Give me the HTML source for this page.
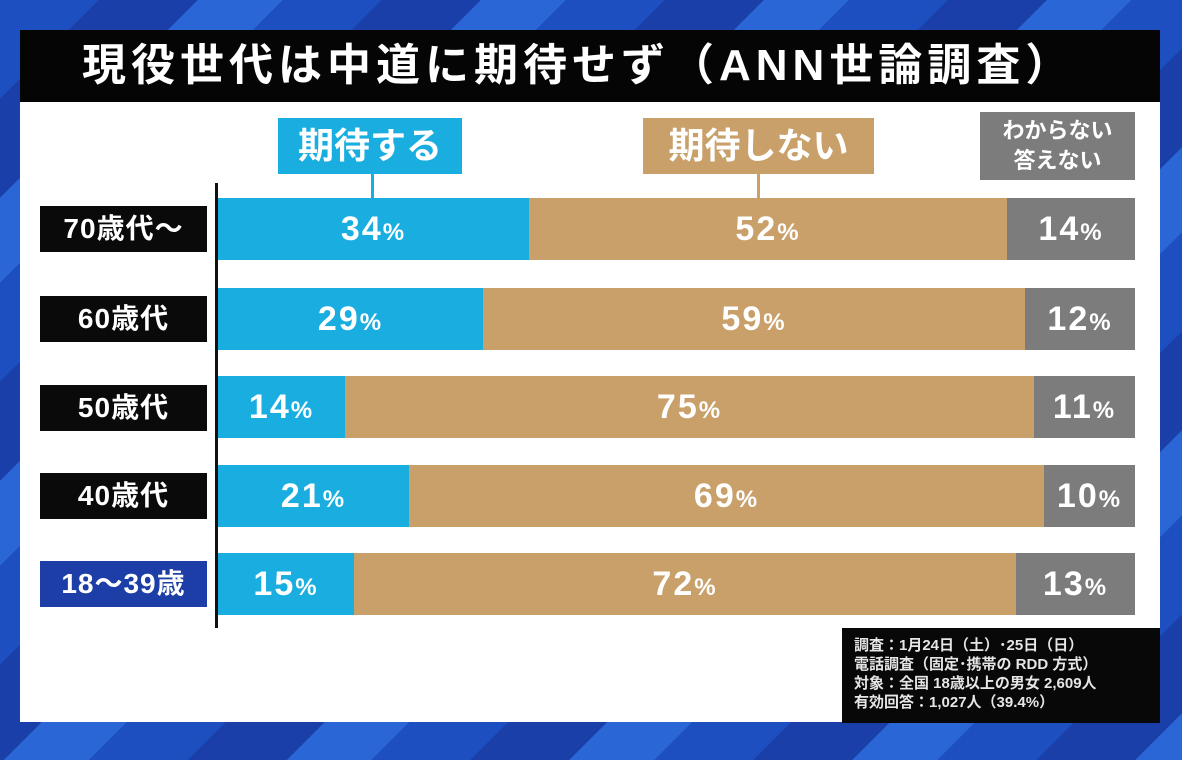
<!DOCTYPE html>
<html><head><meta charset="utf-8"><style>
*{margin:0;padding:0;box-sizing:border-box}
body{width:1182px;height:760px;overflow:hidden;position:relative;font-family:"Liberation Sans","Noto Sans CJK JP",sans-serif;font-weight:bold;
background:repeating-linear-gradient(135deg,#1d4fc0 0 70px,#1a3fa8 70px 140px,#2a66d6 140px 200px);}
.abs{position:absolute}
.title{left:20px;top:30px;width:1140px;height:72px;background:#050505;color:#fff;font-size:44px;line-height:72px;padding-left:62px;letter-spacing:5px;white-space:nowrap}
.panel{left:20px;top:102px;width:1140px;height:620px;background:#fff}
.lab{left:40px;width:167px;height:46px;background:#0a0a0a;color:#fff;font-size:28px;line-height:46px;text-align:center;letter-spacing:1px}
.seg{height:62px;color:#fff;font-size:34px;line-height:62px;text-align:center;letter-spacing:2px}
.seg small{font-size:24px}
.b{background:#1aaee0}.t{background:#c9a06a}.g{background:#7c7c7c}
.leg{color:#fff;text-align:center}
.note{left:842px;top:628px;width:318px;height:95px;background:#080808;color:#e6e6e6;font-size:15px;line-height:19px;padding:8px 0 0 12px;font-weight:bold;white-space:nowrap}
</style></head><body>
<div class="abs panel"></div>
<div class="abs title">現役世代は中道に期待せず（ANN世論調査）</div>
<div class="abs leg b" style="left:278px;top:118px;width:184px;height:56px;font-size:36px;line-height:56px">期待する</div>
<div class="abs" style="left:371px;top:174px;width:3px;height:24px;background:#1aaee0"></div>
<div class="abs leg t" style="left:643px;top:118px;width:231px;height:56px;font-size:36px;line-height:56px">期待しない</div>
<div class="abs" style="left:757px;top:174px;width:3px;height:24px;background:#c9a06a"></div>
<div class="abs leg g" style="left:980px;top:112px;width:155px;height:68px;font-size:22px;line-height:30px;padding-top:4px">わからない<br>答えない</div>
<div class="abs" style="left:215px;top:183px;width:3px;height:445px;background:#111"></div>

<div class="abs lab" style="top:206px">70歳代～</div>
<div class="abs seg b" style="left:218px;top:198px;width:311px">34<small>%</small></div>
<div class="abs seg t" style="left:529px;top:198px;width:478px">52<small>%</small></div>
<div class="abs seg g" style="left:1007px;top:198px;width:128px">14<small>%</small></div>

<div class="abs lab" style="top:296px">60歳代</div>
<div class="abs seg b" style="left:218px;top:288px;width:265px">29<small>%</small></div>
<div class="abs seg t" style="left:483px;top:288px;width:542px">59<small>%</small></div>
<div class="abs seg g" style="left:1025px;top:288px;width:110px">12<small>%</small></div>

<div class="abs lab" style="top:385px">50歳代</div>
<div class="abs seg b" style="left:218px;top:376px;width:127px">14<small>%</small></div>
<div class="abs seg t" style="left:345px;top:376px;width:689px">75<small>%</small></div>
<div class="abs seg g" style="left:1034px;top:376px;width:101px">11<small>%</small></div>

<div class="abs lab" style="top:473px">40歳代</div>
<div class="abs seg b" style="left:218px;top:465px;width:191px">21<small>%</small></div>
<div class="abs seg t" style="left:409px;top:465px;width:635px">69<small>%</small></div>
<div class="abs seg g" style="left:1044px;top:465px;width:91px">10<small>%</small></div>

<div class="abs lab" style="top:561px;background:#1c3ea6">18～39歳</div>
<div class="abs seg b" style="left:218px;top:553px;width:136px">15<small>%</small></div>
<div class="abs seg t" style="left:354px;top:553px;width:662px">72<small>%</small></div>
<div class="abs seg g" style="left:1016px;top:553px;width:119px">13<small>%</small></div>

<div class="abs note">調査：1月24日（土）･25日（日）<br>電話調査（固定･携帯の RDD 方式）<br>対象：全国 18歳以上の男女 2,609人<br>有効回答：1,027人（39.4%）</div>
</body></html>
